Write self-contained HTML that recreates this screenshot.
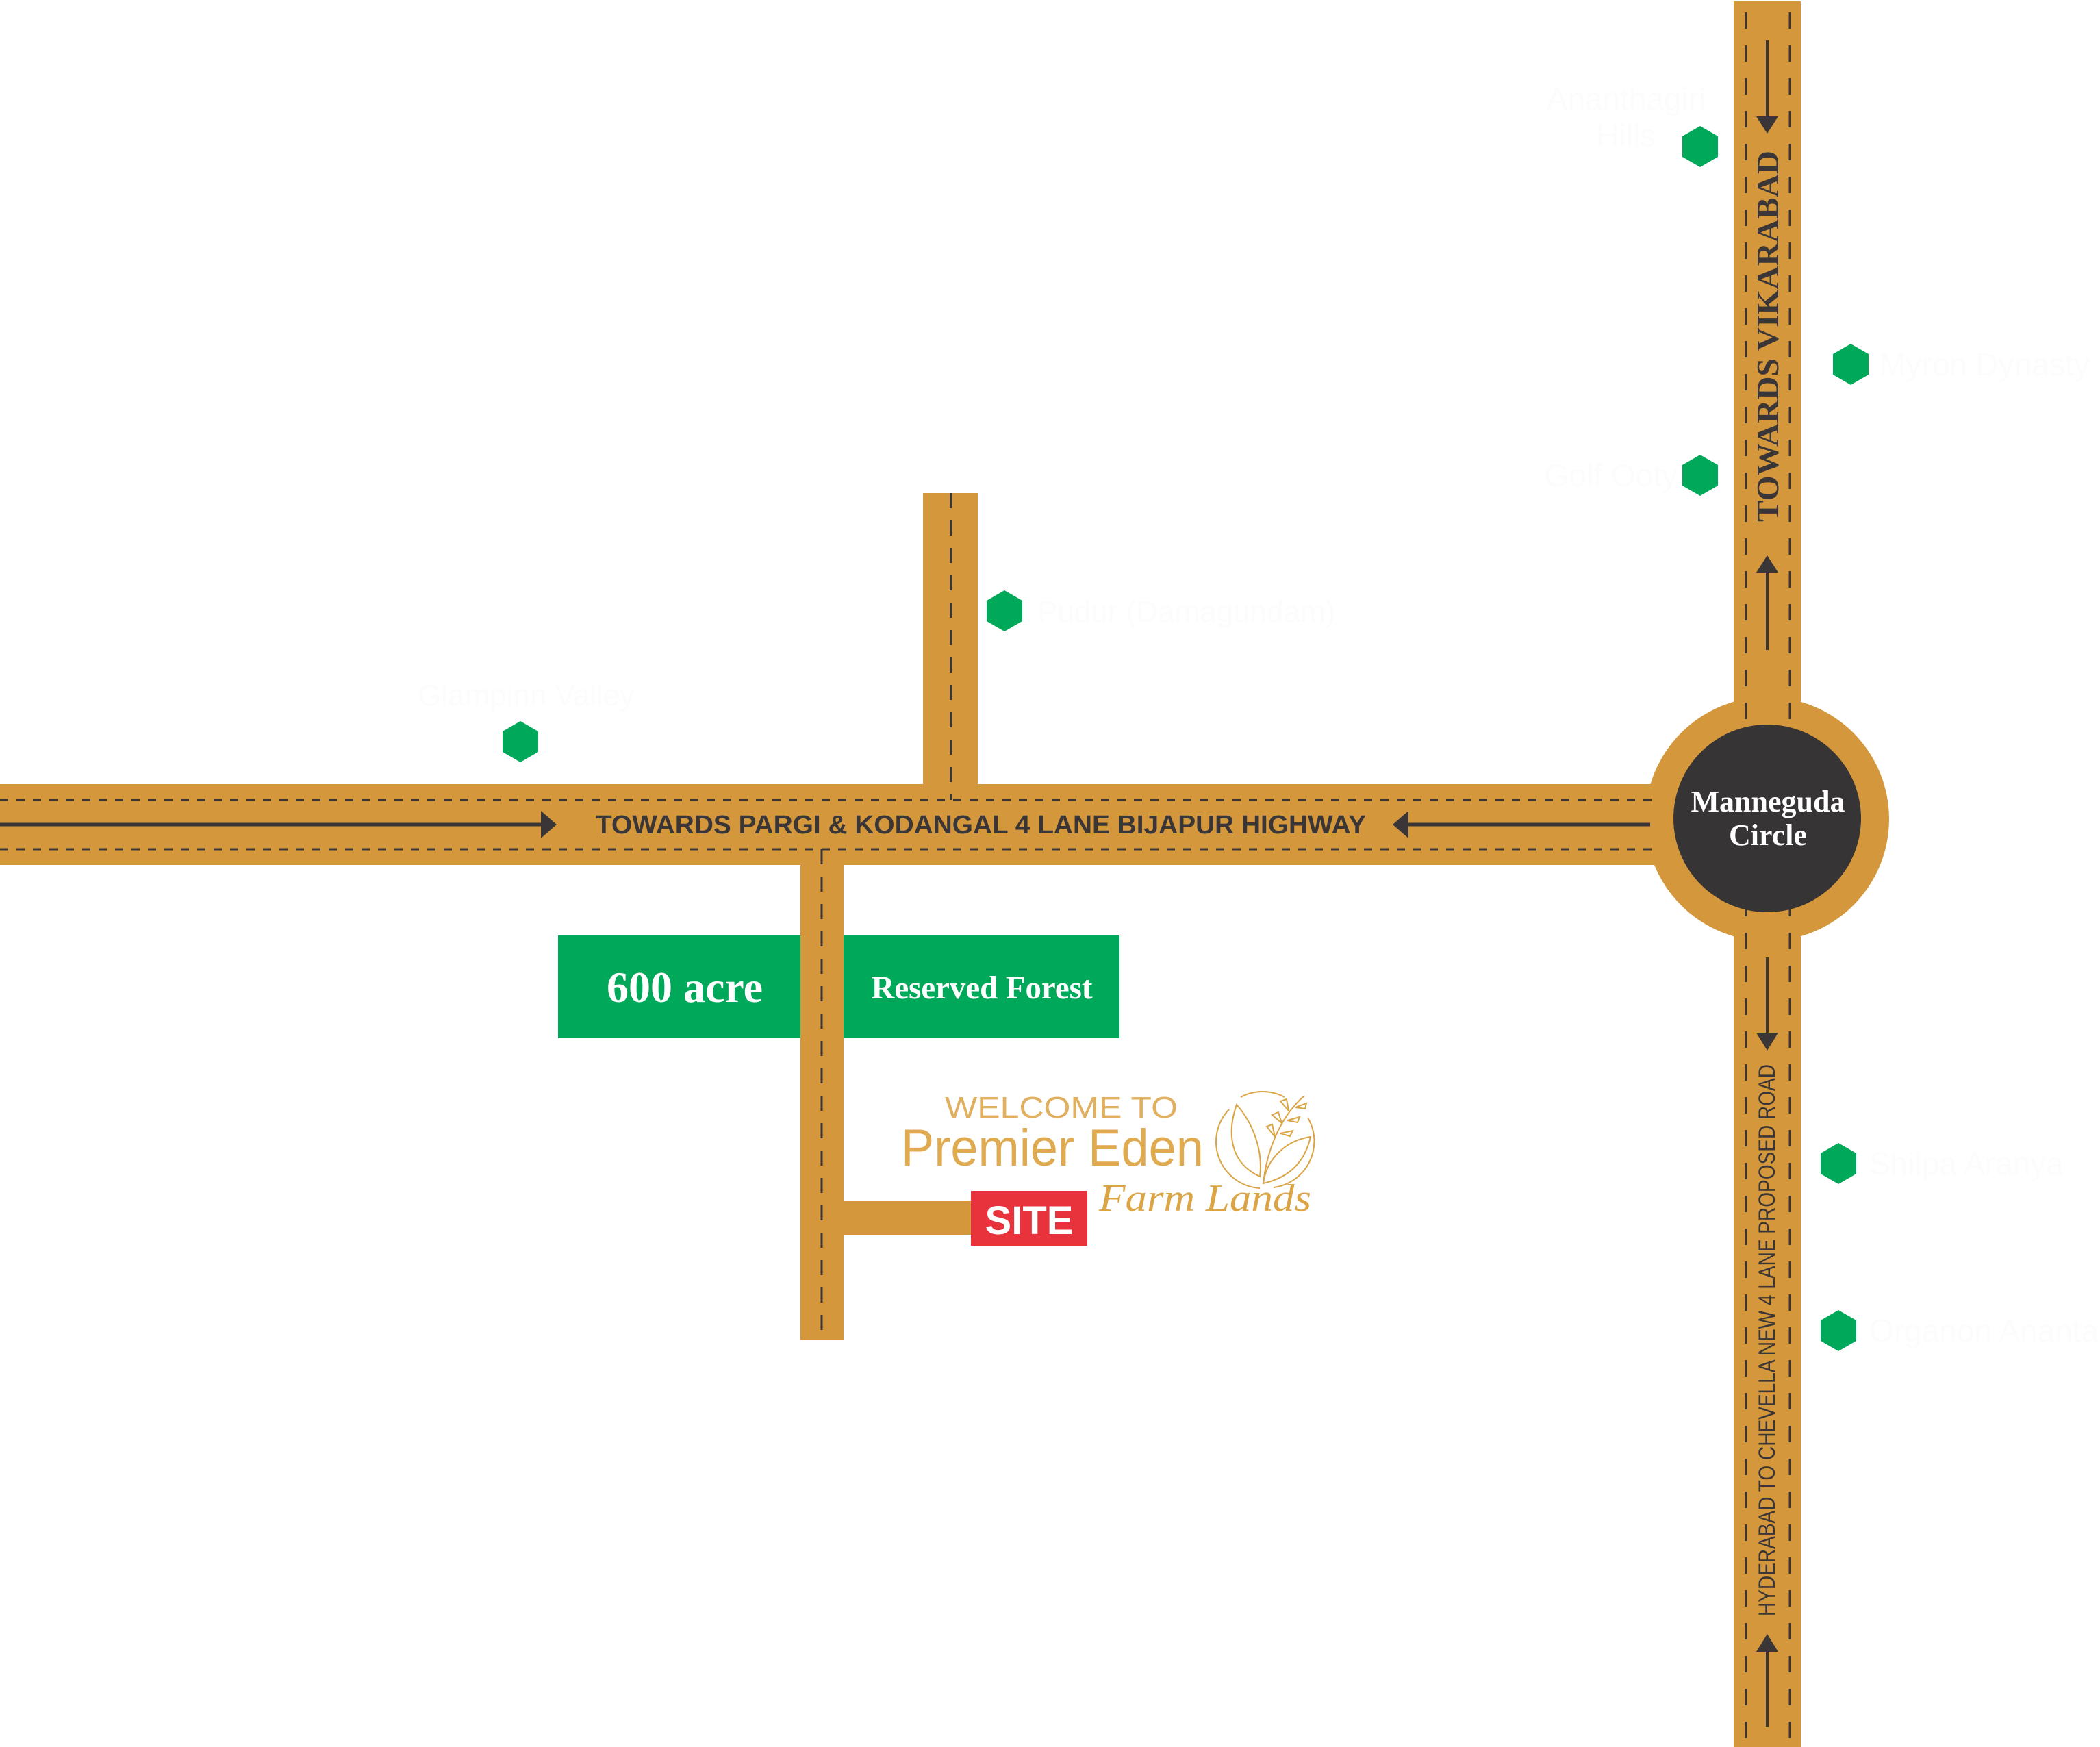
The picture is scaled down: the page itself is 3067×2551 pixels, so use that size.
<!DOCTYPE html>
<html><head><meta charset="utf-8"><style>
html,body{margin:0;padding:0;background:#fff;}
svg{display:block;}
</style></head><body>
<svg width="3067" height="2551" viewBox="0 0 3067 2551" xmlns="http://www.w3.org/2000/svg">
<defs>
<polygon id="hex" points="0,-30 26,-15 26,15 0,30 -26,15 -26,-15" fill="#00a859"/>
</defs>
<rect width="3067" height="2551" fill="#fff"/>
<g fill="#d4973b">
<rect x="2532" y="2" width="98" height="2549"/>
<rect x="0" y="1145" width="2450" height="118"/>
<rect x="1348" y="720" width="80" height="440"/>
<rect x="1169" y="1250" width="63" height="706"/>
<rect x="1225" y="1753" width="200" height="50"/>
<circle cx="2581" cy="1196" r="178"/>
</g>
<g stroke="#3a3536" stroke-width="3" fill="none">
<line x1="2550" y1="18" x2="2550" y2="2551" stroke-dasharray="24 24"/>
<line x1="2614" y1="18" x2="2614" y2="2551" stroke-dasharray="24 24"/>
<line x1="0" y1="1168" x2="2420" y2="1168" stroke-dasharray="12 12"/>
<line x1="0" y1="1240" x2="2420" y2="1240" stroke-dasharray="12 12"/>
<line x1="1389" y1="720" x2="1389" y2="1168" stroke-dasharray="22 18"/>
<line x1="1200" y1="1240" x2="1200" y2="1956" stroke-dasharray="22 18"/>
<line x1="0" y1="1204" x2="800" y2="1204" stroke-width="5"/>
<line x1="2046" y1="1204" x2="2410" y2="1204" stroke-width="5"/>
<line x1="2581" y1="59" x2="2581" y2="180" stroke-width="4"/>
<line x1="2581" y1="825" x2="2581" y2="949" stroke-width="4"/>
<line x1="2581" y1="1398" x2="2581" y2="1520" stroke-width="4"/>
<line x1="2581" y1="2400" x2="2581" y2="2522" stroke-width="4"/>
</g>
<g fill="#3a3536">
<polygon points="813,1204 790,1184 790,1224"/>
<polygon points="2034,1204 2057,1184 2057,1224"/>
<polygon points="2581,195 2565,170 2597,170"/>
<polygon points="2581,811 2565,836 2597,836"/>
<polygon points="2581,1534 2565,1508 2597,1508"/>
<polygon points="2581,2386 2565,2412 2597,2412"/>
</g>
<circle cx="2581" cy="1195" r="137" fill="#373435"/>
<text x="2582" y="1185" text-anchor="middle" font-family="Liberation Serif, serif" font-weight="bold" font-size="44" fill="#fff">Manneguda</text>
<text x="2582" y="1234" text-anchor="middle" font-family="Liberation Serif, serif" font-weight="bold" font-size="44" fill="#fff">Circle</text>
<text x="870" y="1217" textLength="1125" lengthAdjust="spacingAndGlyphs" font-family="Liberation Sans, sans-serif" font-weight="bold" font-size="38" fill="#3a3536">TOWARDS PARGI &amp; KODANGAL 4 LANE BIJAPUR HIGHWAY</text>
<text transform="translate(2597,762) rotate(-90)" textLength="542" lengthAdjust="spacingAndGlyphs" font-family="Liberation Serif, serif" font-weight="bold" font-size="46" fill="#3a3536">TOWARDS VIKARABAD</text>
<text transform="translate(2592,2360) rotate(-90)" textLength="806" lengthAdjust="spacingAndGlyphs" font-family="Liberation Sans Narrow, Liberation Sans, sans-serif" font-size="34" fill="#3a3536">HYDERABAD  TO CHEVELLA NEW 4 LANE PROPOSED ROAD</text>
<use href="#hex" x="2483" y="214"/>
<use href="#hex" x="2703" y="532"/>
<use href="#hex" x="2483" y="694"/>
<use href="#hex" x="1467" y="892"/>
<use href="#hex" x="760" y="1083"/>
<use href="#hex" x="2685" y="1699"/>
<use href="#hex" x="2685" y="1943"/>
<g font-family="Liberation Sans, sans-serif" font-size="46" fill="#fcfcfc">
<text x="2375" y="160" text-anchor="middle">Ananthagiri</text>
<text x="2375" y="214" text-anchor="middle">Hills</text>
<text x="2745" y="548">Myron Dynasty</text>
<text x="2450" y="710" text-anchor="end">Golf Ooty</text>
<text x="1515" y="908" font-size="44">Pudur (Damagundam)</text>
<text x="610" y="1030" font-size="44">Glampinn Valley</text>
<text x="2730" y="1715">Shilpa Aranya</text>
<text x="2730" y="1959">Organon Anantara</text>
</g>
<rect x="815" y="1366" width="354" height="150" fill="#00a859"/>
<rect x="1232" y="1366" width="403" height="150" fill="#00a859"/>
<text x="1000" y="1463" text-anchor="middle" font-family="Liberation Serif, serif" font-weight="bold" font-size="64" fill="#fff">600 acre</text>
<text x="1434" y="1458" text-anchor="middle" textLength="323" lengthAdjust="spacingAndGlyphs" font-family="Liberation Serif, serif" font-weight="bold" font-size="48" fill="#fff">Reserved Forest</text>
<rect x="1418" y="1739" width="170" height="80" fill="#e8323c"/>
<text x="1503" y="1802" text-anchor="middle" font-family="Liberation Sans, sans-serif" font-weight="bold" font-size="58" fill="#fff">SITE</text>
<text x="1380" y="1632" textLength="340" lengthAdjust="spacingAndGlyphs" font-family="Liberation Sans, sans-serif" font-size="44" fill="#e0b060">WELCOME TO</text>
<text x="1316" y="1702" textLength="442" lengthAdjust="spacingAndGlyphs" font-family="Liberation Sans, sans-serif" font-size="76" fill="#dfaa50">Premier Eden</text>
<text x="1605" y="1768" textLength="310" lengthAdjust="spacingAndGlyphs" font-family="Liberation Serif, serif" font-style="italic" font-size="56" fill="#dba444">Farm Lands</text>
<g fill="none" stroke="#dba444" stroke-width="2">
<path d="M1812 1602 A68 68 0 0 1 1876 1602"/>
<path d="M1910 1632 A68 68 0 0 1 1860 1734"/>
<path d="M1840 1735 A68 68 0 0 1 1795 1620"/>
<path d="M1806 1613 C1790 1660 1800 1700 1840 1718 C1845 1680 1830 1640 1806 1613Z"/>
<path d="M1914 1660 C1880 1665 1850 1690 1845 1728 C1880 1720 1905 1700 1914 1660Z"/>
<path d="M1845 1728 C1850 1680 1870 1630 1905 1600"/>
<path d="M1862 1660 l-12 -15 l8 -3z M1872 1640 l-14 -12 l9 -4z M1882 1622 l-12 -14 l9 -3z M1870 1655 l18 -4 l-4 8z M1880 1636 l18 -5 l-3 8z M1892 1617 l16 -6 l-2 8z"/>
</g>
</svg>
</body></html>
